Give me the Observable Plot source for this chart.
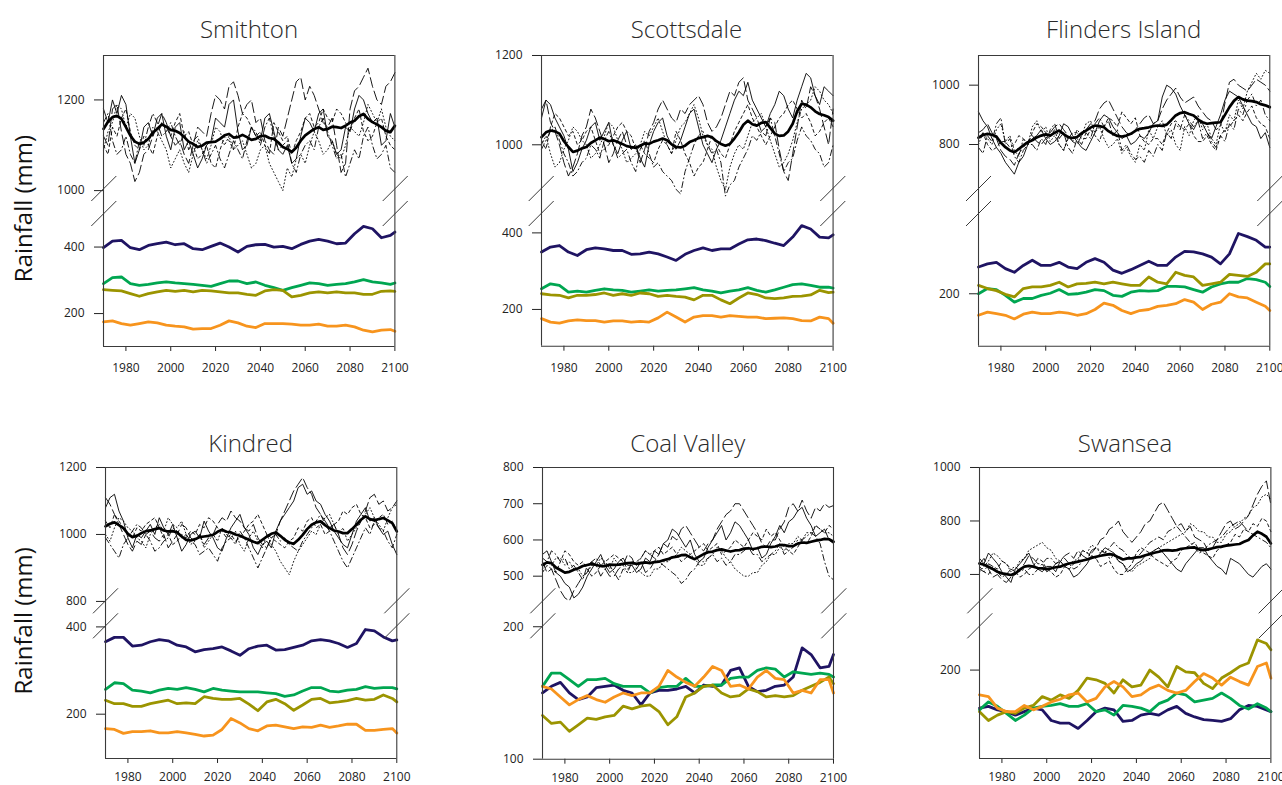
<!DOCTYPE html>
<html>
<head>
<meta charset="utf-8">
<script src="https://cdn.jsdelivr.net/npm/d3@7"></script>
<script src="https://cdn.jsdelivr.net/npm/@observablehq/plot@0.6"></script>
<style>
  body { margin: 0; background: #fff; }
  #root { position: relative; width: 1282px; height: 785px; overflow: hidden; font-family: "Open Sans", sans-serif; }
</style>
</head>
<body>
<div id="root"></div>
<script>
// ---------- shared x values and tick labels ----------
const yearsAnnual = [1970,1972,1974,1976,1978,1980,1982,1984,1986,1988,1990,1992,1994,1996,1998,2000,2002,2004,2006,2008,2010,2012,2014,2016,2018,2020,2022,2024,2026,2028,2030,2032,2034,2036,2038,2040,2042,2044,2046,2048,2050,2052,2054,2056,2058,2060,2062,2064,2066,2068,2070,2072,2074,2076,2078,2080,2082,2084,2086,2088,2090,2092,2094,2096,2098,2100];
const yearsSeason = [1970,1974,1978,1982,1986,1990,1994,1998,2002,2006,2010,2014,2018,2022,2026,2030,2034,2038,2042,2046,2050,2054,2058,2062,2066,2070,2074,2078,2082,2086,2090,2094,2098,2100];
const xTicks = [1980,2000,2020,2040,2060,2080,2100];
const panelNames = ["Smithton","Scottsdale","Flinders Island","Kindred","Coal Valley","Swansea"];
const yAxisLabel = "Rainfall (mm)";

// ---------- Smithton ----------
const smithtonThin1 = [1180,1150,1200,1170,1210,1190,1120,1060,1090,1140,1150,1120,1160,1170,1120,1090,1140,1150,1090,1110,1080,1050,1070,1100,1110,1160,1150,1140,1190,1200,1130,1090,1100,1140,1120,1110,1160,1170,1130,1090,1080,1100,1060,1070,1120,1160,1150,1130,1170,1180,1120,1110,1080,1090,1140,1130,1180,1210,1200,1170,1150,1160,1100,1110,1170,1140];
const smithtonThin2 = [1120,1100,1180,1190,1130,1080,1060,1020,1040,1080,1090,1120,1140,1170,1150,1120,1100,1110,1080,1060,1100,1140,1130,1120,1170,1210,1200,1180,1230,1240,1210,1170,1190,1200,1150,1160,1110,1090,1080,1140,1120,1160,1200,1240,1250,1200,1230,1210,1180,1150,1140,1160,1100,1040,1060,1180,1220,1230,1250,1270,1230,1200,1190,1230,1240,1260];
const smithtonThin3 = [1090,1130,1150,1190,1180,1140,1170,1160,1120,1090,1100,1140,1130,1110,1090,1050,1070,1090,1060,1040,1080,1110,1090,1070,1100,1140,1130,1100,1120,1090,1100,1110,1080,1050,1060,1090,1100,1060,1040,1020,1000,1050,1030,1070,1080,1060,1100,1130,1110,1080,1090,1110,1080,1070,1100,1140,1130,1120,1150,1190,1170,1150,1180,1140,1120,1110];
const smithtonThin4 = [1150,1170,1110,1080,1090,1120,1080,1060,1110,1100,1140,1170,1150,1120,1130,1150,1120,1100,1130,1090,1110,1120,1090,1060,1080,1100,1070,1050,1080,1110,1090,1070,1110,1140,1130,1100,1140,1160,1120,1090,1100,1110,1060,1040,1080,1100,1110,1090,1140,1160,1130,1100,1070,1080,1030,1060,1090,1070,1120,1140,1100,1070,1080,1100,1050,1040];
const smithtonThin5 = [1100,1080,1140,1120,1160,1180,1130,1100,1090,1120,1100,1080,1120,1150,1140,1120,1150,1170,1120,1130,1100,1070,1080,1100,1060,1050,1090,1120,1110,1090,1140,1170,1160,1140,1120,1130,1100,1080,1150,1130,1110,1120,1080,1110,1130,1160,1170,1140,1150,1180,1160,1150,1180,1170,1150,1130,1160,1180,1130,1110,1120,1150,1160,1120,1100,1090];
const smithtonMean  = [1136,1152,1162,1165,1158,1140,1121,1108,1103,1106,1114,1128,1136,1146,1141,1134,1132,1127,1118,1108,1103,1096,1099,1106,1107,1108,1114,1122,1125,1117,1118,1123,1118,1112,1114,1120,1121,1116,1114,1106,1096,1092,1085,1095,1110,1122,1129,1136,1140,1134,1136,1141,1140,1138,1143,1150,1154,1164,1169,1158,1151,1146,1140,1132,1129,1143];
const smithtonWinter = [398,418,420,398,392,405,410,415,407,410,395,392,402,412,400,385,402,407,408,400,402,395,408,418,423,418,410,412,440,462,455,428,435,445];
const smithtonSpring = [290,308,310,290,285,288,292,295,292,290,288,285,282,290,298,298,290,295,285,278,270,278,285,292,290,285,288,290,295,302,295,292,288,292];
const smithtonAutumn = [272,270,268,260,252,260,265,270,267,270,265,270,268,265,262,262,258,255,268,272,270,250,255,262,265,262,265,262,262,258,258,267,268,267];
const smithtonSummer = [175,178,170,165,170,175,172,165,162,160,153,155,155,165,178,172,162,158,170,170,170,168,165,165,168,162,162,165,160,150,145,150,152,147];

// ---------- Scottsdale ----------
const scottsdaleThin1 = [1060,1100,1090,1060,1040,1020,990,940,960,990,1010,1040,1050,1010,1030,1050,1000,980,1010,1030,990,1000,970,950,1000,1030,1050,1060,1020,1000,990,1010,1040,1070,1080,1040,1000,980,960,990,1010,1040,1070,1100,1120,1110,1140,1100,1080,1060,1040,1070,1090,1120,1110,1080,1060,1100,1130,1160,1150,1110,1090,1130,1120,1110];
const scottsdaleThin2 = [1080,1100,1050,1030,1000,960,930,950,980,1020,1040,1080,1060,1030,1000,960,980,1010,1030,1000,990,1000,960,990,1030,1050,1080,1100,1080,1060,1050,1080,1070,1090,1100,1110,1090,1050,1030,1040,1060,1090,1120,1110,1140,1150,1100,1080,1060,1030,1020,1060,1050,990,940,920,980,1040,1100,1080,1130,1110,1080,1040,1000,1080];
const scottsdaleThin3 = [1000,1020,980,950,960,990,1010,1040,1030,1010,1000,970,980,1000,1020,1050,1040,1010,990,960,970,980,1000,1030,1020,1040,1060,1030,1000,980,1010,1040,1050,1070,1090,1060,1020,1000,990,950,920,900,950,980,1000,990,1020,1050,1060,1070,1040,1010,980,950,960,980,1010,1050,1080,1090,1100,1130,1120,1100,1090,1070];
const scottsdaleThin4 = [990,1010,1030,1040,1010,980,960,930,940,960,970,1000,990,970,1010,1030,1000,970,980,990,960,940,990,1010,980,950,960,940,930,920,900,890,940,970,1000,1020,1030,1000,980,990,960,885,910,920,950,970,990,1020,1010,1030,1040,1060,1020,980,940,960,970,1010,1040,1020,1010,990,980,950,960,1000];
const scottsdaleThin5 = [1010,990,1040,1070,1060,1040,1020,1030,1000,1010,1030,1040,1010,980,990,1000,1020,1040,1050,1030,1020,990,1000,980,970,960,990,1010,1000,980,1030,1010,980,960,930,950,960,990,1020,1000,980,970,1000,1030,1050,1070,1090,1060,1040,1020,1000,1020,1040,1060,1070,1090,1100,1080,1060,1070,1050,1020,1030,1050,1060,1040];
const scottsdaleMean  = [1017,1028,1032,1030,1025,1008,995,984,987,992,995,1004,1010,1016,1013,1008,1010,1006,1002,997,995,993,998,1003,1002,1007,1010,1014,1010,1001,995,994,998,1006,1010,1015,1017,1020,1017,1008,1002,998,1002,1014,1028,1045,1054,1046,1043,1049,1051,1038,1025,1020,1021,1030,1047,1075,1092,1090,1084,1075,1069,1066,1062,1054];
const scottsdaleWinter = [350,363,367,350,341,356,361,358,354,354,344,345,350,345,337,328,344,354,361,354,358,358,371,382,384,380,373,367,389,419,410,389,387,395];
const scottsdaleSpring = [254,267,263,245,248,245,250,254,251,250,245,248,251,248,250,251,254,257,251,248,243,248,251,257,250,245,251,258,265,267,263,258,258,256];
const scottsdaleAutumn = [241,238,237,230,237,237,239,243,237,241,237,243,241,234,237,234,232,225,237,237,225,215,230,243,239,230,228,230,234,235,238,250,244,245];
const scottsdaleSummer = [176,167,164,170,173,171,171,167,170,170,167,169,167,178,193,180,167,180,184,184,180,184,182,180,180,176,177,178,176,171,170,180,176,164];

// ---------- Flinders Island ----------
const flindersThin1 = [910,880,860,820,790,770,740,720,700,740,760,800,820,830,850,820,800,810,830,870,860,830,810,790,780,810,840,880,900,890,860,840,820,830,800,810,830,820,840,870,880,960,1000,990,970,930,900,870,850,880,870,840,820,860,900,950,980,970,960,930,900,870,860,820,840,790];
const flindersThin2 = [840,850,870,840,820,780,760,750,730,770,790,810,830,810,800,820,840,860,870,850,830,810,800,830,850,870,880,920,940,950,920,890,860,840,830,850,870,890,900,870,880,920,950,970,990,960,940,950,960,930,910,890,880,850,860,940,1010,1020,1000,990,980,1000,1020,1010,1000,980];
const flindersThin3 = [800,840,820,800,850,870,810,830,780,760,820,800,860,880,840,860,810,830,800,780,830,810,850,830,870,880,840,860,820,790,800,820,770,790,760,740,800,780,850,820,860,880,830,850,800,780,860,830,880,900,850,870,820,800,870,840,900,880,950,920,980,1010,1040,1020,1050,1040];
const flindersThin4 = [790,770,830,810,870,890,800,820,760,740,780,800,800,780,820,800,850,870,820,840,790,770,820,800,840,820,870,890,860,880,830,850,780,800,770,750,760,740,780,760,800,780,840,820,870,850,900,880,860,880,820,840,810,790,830,810,870,850,920,900,950,970,930,950,900,880];
const flindersThin5 = [820,840,800,780,790,810,810,790,800,830,820,800,840,870,860,840,830,850,800,780,820,840,840,820,820,850,830,810,860,890,880,860,910,890,870,890,830,810,800,820,820,800,840,870,880,860,850,870,830,810,810,830,800,780,830,850,860,880,900,880,910,930,890,870,860,820];
const flindersMean  = [823,832,836,833,827,806,791,780,774,785,797,808,814,824,830,834,830,840,847,835,825,822,825,838,847,857,864,862,858,845,836,829,827,830,836,846,853,855,858,862,864,863,867,882,898,906,909,903,898,884,875,870,872,874,875,900,926,947,960,952,948,946,943,936,932,926];
const flindersWinter = [251,257,260,248,241,254,264,254,254,260,251,248,260,267,260,245,239,246,254,262,254,254,270,281,280,276,270,257,276,315,309,302,289,289];
const flindersSpring = [200,210,208,197,184,191,191,197,201,208,199,200,203,208,206,197,195,203,206,205,206,214,214,213,208,203,213,219,222,222,229,227,222,214];
const flindersAutumn = [216,210,206,199,194,210,213,213,216,222,213,219,220,222,219,222,219,216,216,232,222,219,241,235,232,216,219,222,237,235,233,241,257,257];
const flindersSummer = [159,165,162,159,152,161,165,162,162,165,163,159,162,170,182,178,168,162,168,170,176,178,181,189,184,170,180,184,200,194,192,184,176,168];

// ---------- Kindred ----------
const kindredThin1 = [1080,1110,1120,1070,1040,990,960,1000,990,1010,1030,1000,1050,1020,1000,1030,990,950,970,1000,1010,990,1040,1010,990,960,950,990,1020,1040,1060,1020,1000,960,940,970,980,960,1010,1040,1060,1080,1100,1140,1150,1120,1130,1100,1090,1060,1040,1010,990,970,960,1000,1040,1060,1080,1040,1050,1020,1000,1010,970,940];
const kindredThin2 = [1110,1090,1060,1030,1000,970,950,980,970,1000,1010,990,980,1000,960,980,1000,1030,1020,990,980,1000,970,990,1000,1030,1050,1040,1070,1050,1040,1020,1010,1030,990,970,960,990,1000,1040,1070,1100,1130,1150,1170,1140,1120,1080,1060,1040,1020,1030,1000,960,940,970,1010,1040,1070,1110,1120,1090,1100,1070,1080,1100];
const kindredThin3 = [1000,980,1020,1050,1040,1020,1010,990,980,960,1000,1020,1030,1010,1050,1030,1020,1040,1000,970,980,1000,960,980,1000,980,1020,1000,990,1010,970,950,990,1010,980,960,1000,970,950,920,900,880,920,950,970,990,1010,1000,1030,1050,1060,1030,1000,1020,980,1000,1020,1040,1060,1080,1050,1030,1010,1050,1080,1090];
const kindredThin4 = [990,970,950,930,970,990,1010,1030,1020,1000,980,950,960,980,990,1020,1010,990,1000,980,970,940,950,960,940,920,960,980,990,970,1010,990,960,930,900,930,960,990,1000,980,990,970,960,950,980,1000,1020,1040,1060,1030,1010,980,950,920,900,930,960,990,1020,1000,1040,1020,1010,980,960,1000];
const kindredThin5 = [1040,1020,1060,1040,1020,1000,990,1020,1010,1030,1040,1050,1020,990,1000,970,980,1000,990,1010,1000,1030,1020,1050,1040,1020,1010,990,1000,980,990,1010,1030,1040,1060,1030,1000,990,980,970,960,980,990,1020,1010,1040,1050,1020,1030,1000,1010,1030,1040,1070,1060,1080,1090,1060,1050,1020,1030,1050,1060,1030,1040,1010];
const kindredMean  = [1024,1032,1036,1028,1019,1002,992,996,1004,1010,1012,1016,1019,1012,1009,1010,1006,994,984,982,986,992,994,996,999,1008,1014,1008,1006,1000,996,990,984,978,974,984,994,1002,1006,996,984,976,972,984,999,1016,1029,1036,1039,1028,1019,1012,1009,1004,1004,1016,1029,1044,1054,1046,1042,1046,1049,1042,1034,1009];
const kindredWinter = [366,376,376,356,358,366,371,368,358,354,343,348,350,354,345,335,350,356,358,347,348,353,358,368,371,368,362,353,362,394,391,377,368,370];
const kindredSpring = [257,272,270,255,253,249,255,259,257,261,257,251,259,255,253,251,251,251,249,247,241,244,253,261,261,253,251,255,257,263,259,261,261,258];
const kindredAutumn = [232,224,224,218,218,224,228,232,224,226,224,240,236,234,234,236,223,208,228,234,224,209,221,234,236,226,228,231,236,232,234,244,236,228];
const kindredSummer = [167,165,156,160,160,162,157,157,160,157,154,150,152,165,190,180,167,162,173,175,171,167,171,170,175,170,173,177,177,163,163,165,167,157];

// ---------- Coal Valley ----------
const coalThin1 = [560,570,540,510,500,480,470,440,450,470,500,520,540,560,530,510,520,540,550,530,530,510,520,550,540,570,560,590,600,630,620,600,580,600,560,540,550,580,600,620,640,600,620,650,640,620,600,570,580,550,560,590,610,640,620,650,660,680,690,660,640,610,620,630,600,590];
const coalThin2 = [540,510,520,490,460,440,432,460,480,500,510,540,530,500,520,500,500,520,530,560,550,520,540,510,520,540,560,590,580,610,600,630,640,620,600,580,570,590,600,630,650,670,680,700,700,680,660,640,620,590,580,600,600,630,650,690,700,680,710,680,660,690,680,700,690,695];
const coalThin3 = [520,540,530,550,550,530,540,520,520,500,510,530,530,550,540,520,550,530,530,510,510,520,510,500,500,520,520,540,540,550,560,580,570,560,550,530,530,550,560,580,570,550,540,520,510,500,500,510,510,530,540,560,560,580,570,590,590,610,600,620,620,640,630,620,620,610];
const coalThin4 = [550,540,570,560,540,550,520,530,510,490,530,540,550,530,520,530,510,490,520,510,540,530,550,570,560,550,540,530,520,510,500,480,490,510,520,540,540,550,560,540,550,530,540,560,560,570,580,560,560,540,550,560,570,590,560,570,580,600,600,610,620,610,590,540,500,490];
const coalThin5 = [510,530,520,510,540,570,560,540,530,540,520,500,510,530,540,550,560,550,540,520,530,540,550,570,560,570,580,560,570,580,560,540,550,560,570,580,590,570,580,590,560,570,580,600,590,580,600,620,610,600,630,610,620,600,580,570,560,580,600,590,610,640,630,620,640,630];
const coalMean  = [531,538,536,524,517,510,512,518,522,528,531,534,531,528,528,532,531,532,534,536,537,534,536,538,536,539,540,544,547,552,554,558,559,552,547,554,561,566,568,572,574,571,568,571,572,576,577,575,577,581,582,580,582,586,586,583,583,590,593,592,595,598,600,603,602,595];
const coalWinter = [150,155,158,150,145,147,154,155,156,152,150,141,150,152,152,153,155,150,156,155,156,167,169,155,151,152,155,156,162,184,179,169,170,179];
const coalSpring = [155,165,165,160,155,160,160,161,157,155,155,155,150,154,155,155,161,155,155,156,156,161,162,162,167,169,168,162,166,165,164,165,164,162];
const coalAutumn = [133,127,128,121,126,131,130,132,133,140,138,140,141,136,126,132,147,150,155,156,150,147,148,153,151,147,148,147,148,152,155,158,162,157];
const coalSummer = [155,153,147,141,145,148,145,143,147,150,148,150,150,155,167,162,158,155,162,170,167,155,156,153,162,167,161,160,150,152,150,160,160,150];

// ---------- Swansea ----------
const swanseaThin1 = [660,640,680,660,640,610,590,570,620,640,660,680,640,620,610,630,630,610,650,630,620,590,600,620,640,670,660,680,700,690,680,650,640,610,620,640,650,670,680,690,700,680,660,640,620,610,640,660,680,700,700,670,650,630,620,600,660,650,640,620,600,590,610,630,640,620];
const swanseaThin2 = [640,660,620,590,600,580,570,590,600,620,640,670,660,640,640,610,620,640,650,670,680,660,690,670,660,690,700,730,740,770,780,800,760,740,720,740,760,790,800,830,860,870,840,810,780,790,760,780,740,730,720,690,700,730,760,790,800,770,780,800,820,860,900,930,950,860];
const swanseaThin3 = [610,630,650,680,670,650,640,610,620,650,660,690,700,710,720,700,690,660,650,630,640,650,660,690,680,710,700,680,690,660,670,650,640,620,610,630,640,650,660,690,700,710,720,730,740,750,760,790,780,760,760,740,740,720,720,750,760,780,790,810,820,850,860,890,900,880];
const swanseaThin4 = [620,610,640,630,610,590,600,620,630,610,620,600,600,620,640,660,660,640,650,660,640,620,630,650,660,680,700,690,680,700,720,700,690,670,660,660,680,700,720,730,740,730,760,770,780,760,740,720,700,680,690,710,720,730,740,760,780,790,800,780,760,750,740,730,720,700];
const swanseaThin5 = [630,610,600,630,620,650,640,620,610,590,600,620,630,660,650,620,610,590,600,630,620,640,650,690,680,670,660,630,640,650,620,600,600,620,640,680,700,690,680,660,650,640,630,650,660,690,700,710,720,690,680,670,660,690,700,710,720,750,740,770,760,790,780,810,800,760];
const swanseaMean  = [641,636,629,620,610,604,601,598,604,618,629,632,629,624,623,620,623,627,629,636,641,644,648,652,656,662,666,670,673,676,673,664,656,660,660,664,666,672,676,681,685,690,691,689,691,696,698,700,701,694,691,694,698,702,704,708,710,712,714,722,729,746,760,752,741,716];
const swanseaWinter = [157,159,155,153,149,153,157,155,143,140,140,134,143,153,157,155,142,143,149,151,149,155,159,151,147,144,143,142,145,155,160,159,155,153];
const swanseaSpring = [155,164,159,151,143,149,157,159,160,162,159,159,162,153,155,149,160,159,157,153,162,166,174,172,164,166,168,174,168,160,156,162,157,153];
const swanseaAutumn = [153,143,149,153,151,157,160,170,166,172,168,177,191,189,185,174,189,181,183,200,192,181,204,198,197,185,179,191,197,204,208,234,230,223];
const swanseaSummer = [172,170,157,153,153,160,155,159,164,167,172,174,164,168,181,187,181,170,172,179,183,177,174,177,187,196,191,183,192,187,183,204,208,191];

// ---------- y-axis tick labels and section extents ----------
const topTicks = [[1000,1200],[1000,1200],[800,1000],[800,1000,1200],[500,600,700,800],[600,800,1000]];
const bottomTicks = [[200,400],[200,400],[200],[200,400],[100,200],[200]];
const topDomains = [[976,1298],[873,1200],[608,1100],[764,1200],[397,800],[454,1000]];
const bottomDomains = [[101,537],[104,482],[100,376],[98.5,430.7],[100,210],[100,264]];

// ---------- styling / layout ----------
const seasonColors = { winter: "#1f1463", spring: "#00a651", autumn: "#9b9400", summer: "#f7941d" };
const thinDashes = [null, "10,4", "1,2.5", "6,3,1,3", "3,3"];
const frameColor = "#3a3a3a";
const frames = [
  { left: 103.3, right: 394.7, top: 55,    split: 201,   bottom: 346,   titleY: 37.7,  xPad: 12 },
  { left: 540.7, right: 832.3, top: 55,    split: 201,   bottom: 345.7, titleY: 37.7,  xPad: 12 },
  { left: 978,   right: 1269.3, top: 55,   split: 201,   bottom: 345.7, titleY: 37.7,  xPad: 12 },
  { left: 105,   right: 396.3, top: 467.3, split: 613.3, bottom: 758.3, titleY: 451.7, xPad: 9 },
  { left: 542.3, right: 833.3, top: 467.3, split: 613.3, bottom: 759,   titleY: 451.7, xPad: 9 },
  { left: 979.3, right: 1270.7, top: 467.3, split: 613.3, bottom: 758.3, titleY: 451.7, xPad: 9 }
];

const panels = [
  { thin: [smithtonThin1,smithtonThin2,smithtonThin3,smithtonThin4,smithtonThin5], mean: smithtonMean,
    seasons: { winter: smithtonWinter, spring: smithtonSpring, autumn: smithtonAutumn, summer: smithtonSummer } },
  { thin: [scottsdaleThin1,scottsdaleThin2,scottsdaleThin3,scottsdaleThin4,scottsdaleThin5], mean: scottsdaleMean,
    seasons: { winter: scottsdaleWinter, spring: scottsdaleSpring, autumn: scottsdaleAutumn, summer: scottsdaleSummer } },
  { thin: [flindersThin1,flindersThin2,flindersThin3,flindersThin4,flindersThin5], mean: flindersMean,
    seasons: { winter: flindersWinter, spring: flindersSpring, autumn: flindersAutumn, summer: flindersSummer } },
  { thin: [kindredThin1,kindredThin2,kindredThin3,kindredThin4,kindredThin5], mean: kindredMean,
    seasons: { winter: kindredWinter, spring: kindredSpring, autumn: kindredAutumn, summer: kindredSummer } },
  { thin: [coalThin1,coalThin2,coalThin3,coalThin4,coalThin5], mean: coalMean,
    seasons: { winter: coalWinter, spring: coalSpring, autumn: coalAutumn, summer: coalSummer } },
  { thin: [swanseaThin1,swanseaThin2,swanseaThin3,swanseaThin4,swanseaThin5], mean: swanseaMean,
    seasons: { winter: swanseaWinter, spring: swanseaSpring, autumn: swanseaAutumn, summer: swanseaSummer } }
];

const ML = 70, MR = 24, MT = 12, MB = 34;
const plotStyle = { fontFamily: '"Open Sans", sans-serif', fontSize: "12px", color: "#222", background: "transparent", overflow: "visible" };
const toRows = (yrs, arr) => yrs.map((year, i) => ({ year, value: arr[i] }));

const root = document.getElementById("root");
const overlay = d3.select(root).append("svg")
  .attr("width", 1282).attr("height", 785)
  .style("position", "absolute").style("left", "0px").style("top", "0px")
  .style("overflow", "visible").style("pointer-events", "none")
  .style("z-index", 2);

panels.forEach((p, k) => {
  const f = frames[k];
  const fw = f.right - f.left;

  const topPlot = Plot.plot({
    width: ML + fw + MR,
    height: MT + (f.split - f.top),
    marginLeft: ML, marginRight: MR, marginTop: MT, marginBottom: 0,
    style: plotStyle,
    x: { domain: [1970, 2100], axis: null },
    y: { domain: topDomains[k], ticks: topTicks[k], tickSize: 9, tickPadding: 10, tickFormat: d => String(d), label: null },
    marks: [
      ...p.thin.map((arr, i) => Plot.line(toRows(yearsAnnual, arr), {
        x: "year", y: "value", stroke: "#000", strokeWidth: 0.9,
        ...(thinDashes[i] ? { strokeDasharray: thinDashes[i] } : {})
      })),
      Plot.line(toRows(yearsAnnual, p.mean), { x: "year", y: "value", stroke: "#000", strokeWidth: 2.7 }),
      Plot.ruleX([1970, 2100], { stroke: frameColor, strokeWidth: 1.1 }),
      Plot.ruleY([topDomains[k][1]], { stroke: frameColor, strokeWidth: 1.1 })
    ]
  });

  const bottomPlot = Plot.plot({
    width: ML + fw + MR,
    height: (f.bottom - f.split) + MB,
    marginLeft: ML, marginRight: MR, marginTop: 0, marginBottom: MB,
    style: plotStyle,
    x: { domain: [1970, 2100], ticks: xTicks, tickSize: 5, tickPadding: f.xPad, tickFormat: d => String(d), label: null },
    y: { domain: bottomDomains[k], ticks: bottomTicks[k], tickSize: 9, tickPadding: 10, tickFormat: d => String(d), label: null },
    marks: [
      ...Object.entries(p.seasons).map(([season, arr]) => Plot.line(toRows(yearsSeason, arr), {
        x: "year", y: "value", stroke: seasonColors[season], strokeWidth: 2.8
      })),
      Plot.ruleX([1970, 2100], { stroke: frameColor, strokeWidth: 1.1 }),
      Plot.ruleY([bottomDomains[k][0]], { stroke: frameColor, strokeWidth: 1.1 })
    ]
  });

  const left = f.left - ML;
  const topOffset = f.top - MT;
  for (const [el, t] of [[topPlot, topOffset], [bottomPlot, f.split]]) {
    el.style.position = "absolute";
    el.style.left = left + "px";
    el.style.top = t + "px";
    root.appendChild(el);
  }

  // axis-break marks positioned from the plots' own scales
  const xs = topPlot.scale("x"), ys = topPlot.scale("y");
  const xL = left + xs.range[0], xR = left + xs.range[1];
  const yS = topOffset + ys.apply(topDomains[k][0]);
  for (const x0 of [xL, xR]) {
    for (const dy of [0, 25]) {
      overlay.append("line")
        .attr("x1", x0 - 12).attr("y1", yS + dy)
        .attr("x2", x0 + 13).attr("y2", yS + dy - 25)
        .attr("stroke", frameColor).attr("stroke-width", 1);
    }
  }

  overlay.append("text")
    .attr("x", (xL + xR) / 2).attr("y", f.titleY)
    .attr("text-anchor", "middle")
    .attr("font-family", '"Open Sans", sans-serif')
    .attr("font-size", 24).attr("font-weight", 300)
    .attr("fill", "#2a2a2a")
    .text(panelNames[k]);

  if (k % 3 === 0) {
    const cy = (f.top + f.bottom) / 2 + 8;
    overlay.append("text")
      .attr("transform", `translate(31.5,${cy}) rotate(-90)`)
      .attr("text-anchor", "middle")
      .attr("font-family", '"Open Sans", sans-serif')
      .attr("font-size", 24)
      .attr("fill", "#111")
      .text(yAxisLabel);
  }
});
</script>
</body>
</html>
